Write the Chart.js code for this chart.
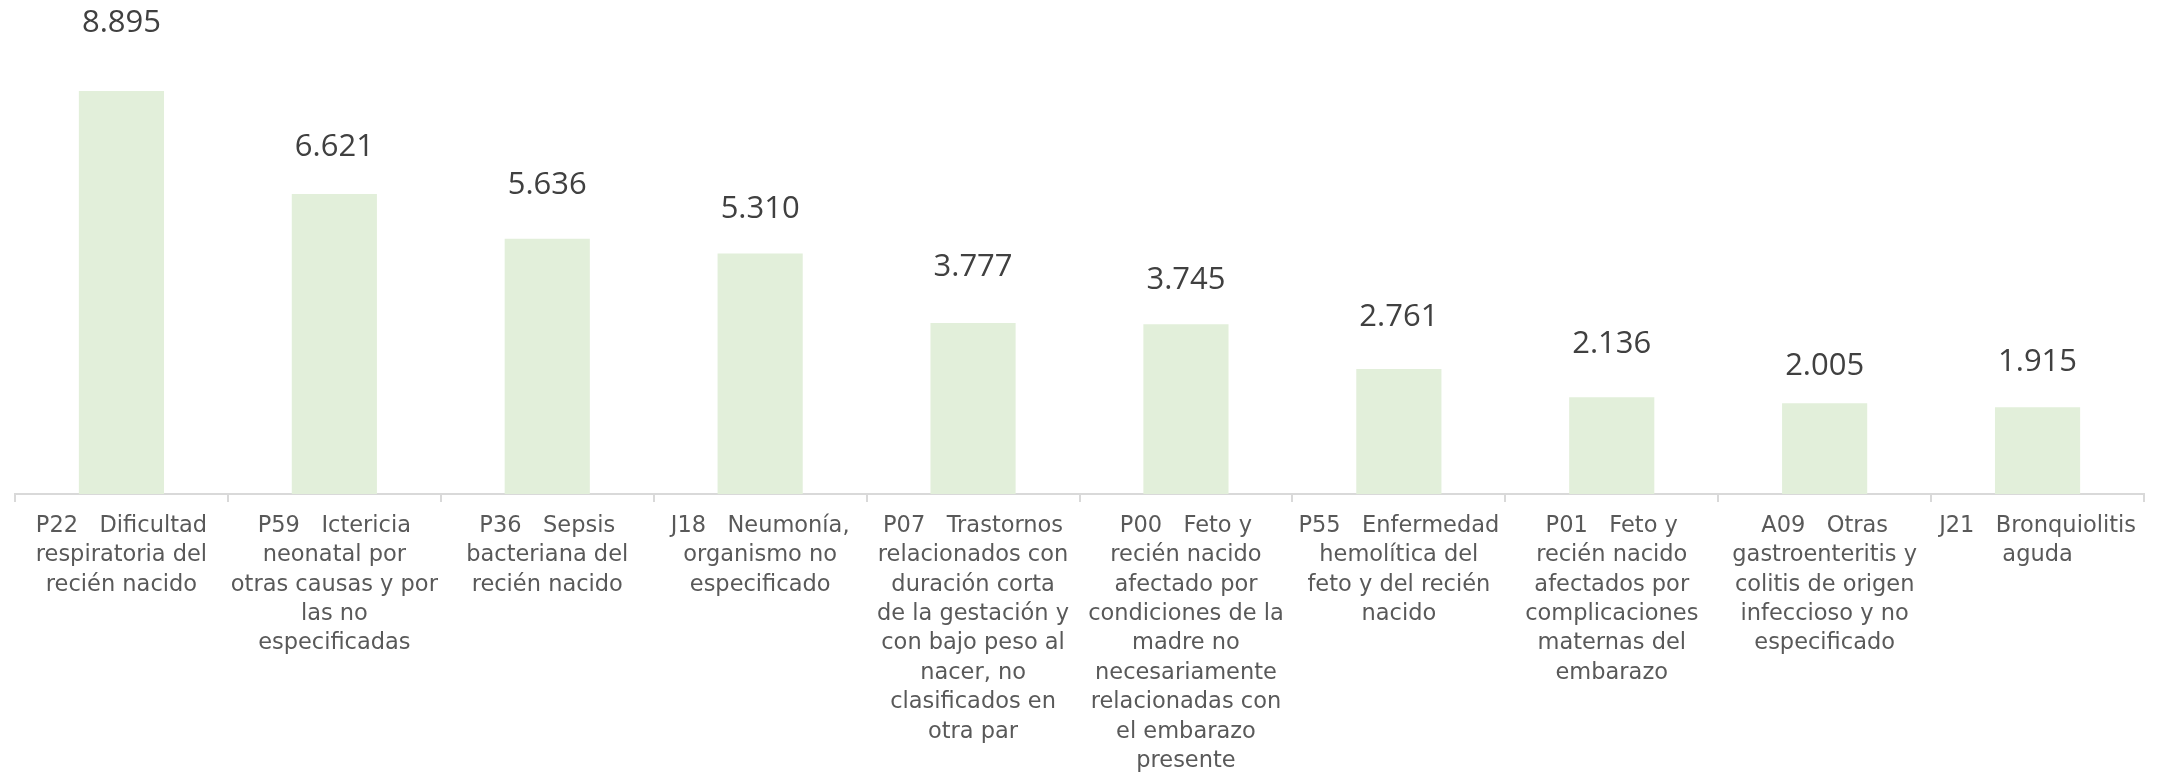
<!DOCTYPE html>
<html>
<head>
<meta charset="utf-8">
<script src="https://cdn.jsdelivr.net/npm/chart.js@4.4.1/dist/chart.umd.min.js"></script>
<style>
  html, body { margin: 0; padding: 0; background: #fff; }
  #wrap { width: 2159px; height: 773px; }
</style>
</head>
<body>
<div id="wrap"><canvas id="myChart"></canvas></div>
<script>
// categories, already split into the lines shown under each bar
const categories = [
  ['P22   Dificultad', 'respiratoria del', 'recién nacido'],
  ['P59   Ictericia', 'neonatal por', 'otras causas y por', 'las no', 'especificadas'],
  ['P36   Sepsis', 'bacteriana del', 'recién nacido'],
  ['J18   Neumonía,', 'organismo no', 'especificado'],
  ['P07   Trastornos', 'relacionados con', 'duración corta', 'de la gestación y', 'con bajo peso al', 'nacer, no', 'clasificados en', 'otra par'],
  ['P00   Feto y', 'recién nacido', 'afectado por', 'condiciones de la', 'madre no', 'necesariamente', 'relacionadas con', 'el embarazo', 'presente'],
  ['P55   Enfermedad', 'hemolítica del', 'feto y del recién', 'nacido'],
  ['P01   Feto y', 'recién nacido', 'afectados por', 'complicaciones', 'maternas del', 'embarazo'],
  ['A09   Otras', 'gastroenteritis y', 'colitis de origen', 'infeccioso y no', 'especificado'],
  ['J21   Bronquiolitis', 'aguda']
];
const casos = [8895, 6621, 5636, 5310, 3777, 3745, 2761, 2136, 2005, 1915];

// how far (px) each value label sits above its bar, as placed in the original
const labelLift = [68, 47, 54, 44, 56, 44, 52, 53, 37, 45];

const fmt = v => v.toLocaleString('de-DE');

const valueLabels = {
  id: 'valueLabels',
  afterDatasetsDraw(chart) {
    const c = chart.ctx;
    const meta = chart.getDatasetMeta(0);
    c.save();
    c.font = '31px "Open Sans"';
    c.fillStyle = '#404040';
    c.textAlign = 'center';
    c.textBaseline = 'middle';
    meta.data.forEach((bar, i) => {
      c.fillText(fmt(casos[i]), bar.x, bar.y - labelLift[i]);
    });
    c.restore();
  }
};

const ctx = document.getElementById('myChart').getContext('2d');
const chart = new Chart(ctx, {
  type: 'bar',
  data: {
    labels: categories,
    datasets: [{
      data: casos,
      backgroundColor: '#E2EFDA',
      borderWidth: 0,
      barPercentage: 0.4,
      categoryPercentage: 1
    }]
  },
  options: {
    responsive: true,
    maintainAspectRatio: false,
    animation: false,
    layout: { padding: { top: 41, left: 15, right: 15, bottom: 0 } },
    plugins: {
      legend: { display: false },
      tooltip: { enabled: false }
    },
    scales: {
      y: {
        display: false,
        min: 0,
        max: 10000
      },
      x: {
        afterFit(scale) { scale.height = 279; },
        grid: {
          offset: true,
          drawOnChartArea: false,
          color: '#D9D9D9',
          lineWidth: 2,
          tickLength: 8
        },
        border: { display: true, color: '#D9D9D9', width: 2 },
        ticks: {
          color: '#595959',
          padding: 9,
          maxRotation: 0,
          autoSkip: false,
          font: { family: 'DejaVu Sans', size: 22.5, lineHeight: 1.31 }
        }
      }
    }
  },
  plugins: [valueLabels]
});
</script>
</body>
</html>
